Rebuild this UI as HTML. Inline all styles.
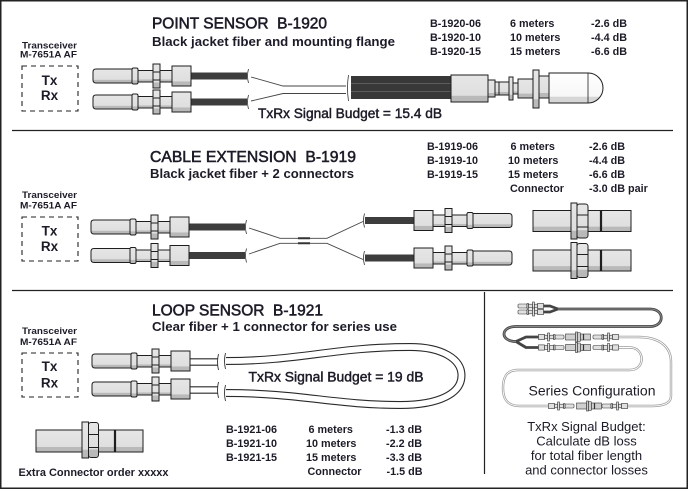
<!DOCTYPE html>
<html><head><meta charset="utf-8">
<style>
html,body{margin:0;padding:0;background:#fff;}
svg{display:block;}
text{font-family:"Liberation Sans",Arial,sans-serif;fill:#1c1c28;}
.b{font-weight:bold;}
.t{stroke:#1c1c28;stroke-width:0.55;}
.t2{stroke:#1c1c28;stroke-width:0.45;}
.pre{white-space:pre;}
</style></head><body>
<svg width="688" height="489" viewBox="0 0 688 489" xmlns="http://www.w3.org/2000/svg">
<defs>
<linearGradient id="g" x1="0" y1="0" x2="0" y2="1">
<stop offset="0" stop-color="#e6e6e6"/><stop offset="0.76" stop-color="#dfdfdf"/><stop offset="0.78" stop-color="#b9b9b9"/><stop offset="1" stop-color="#b9b9b9"/>
</linearGradient>
<linearGradient id="gw" x1="0" y1="0" x2="0" y2="1">
<stop offset="0" stop-color="#ffffff"/><stop offset="0.78" stop-color="#f7f7f7"/><stop offset="0.8" stop-color="#d6d6d6"/><stop offset="1" stop-color="#d6d6d6"/>
</linearGradient>
<g id="lc" stroke="#1e1e1e" stroke-width="1" fill="url(#g)">
 <path d="M96,-7H132V7H96Q93,7 93,4V-4Q93,-7 96,-7Z"/>
 <rect x="138" y="-5.5" width="15" height="11.5"/>
 <rect x="132" y="-8" width="6" height="16" rx="1.5"/>
 <rect x="160" y="-5.5" width="12" height="11.5"/>
 <rect x="153" y="-12" width="7" height="24"/>
 <path d="M153,-4H160M153,4H160" fill="none"/>
 <rect x="172" y="-10" width="19" height="20"/>
</g>
<g id="sl" stroke="#1e1e1e" stroke-width="1" fill="url(#g)">
 <rect x="533" y="-10.5" width="38" height="21"/>
 <rect x="588" y="-10.5" width="13" height="21"/>
 <rect x="601" y="-10.5" width="30" height="21"/>
 <line x1="601" y1="-10.5" x2="601" y2="10.5" stroke-width="2.2"/>
 <rect x="571" y="-18" width="6" height="36"/>
 <rect x="577" y="-17" width="11" height="34" rx="2.5"/>
 <path d="M577,-6H588M577,6H588" fill="none"/>
</g>
<g id="mc" stroke="#333" stroke-width="0.6" fill="#e0e0e0">
 <rect x="0" y="-2" width="9" height="4" rx="1"/>
 <rect x="9" y="-2.5" width="1.5" height="5"/>
 <rect x="10.5" y="-1.8" width="4" height="3.6"/>
 <rect x="14.5" y="-4" width="2" height="8"/>
 <rect x="16.5" y="-1.8" width="3" height="3.6"/>
 <rect x="19.5" y="-2.6" width="6" height="5.2"/>
</g>
<g id="ms" stroke="#333" stroke-width="0.6" fill="#cfcfcf">
 <rect x="0" y="-3" width="10" height="6"/>
 <rect x="15" y="-3" width="10" height="6"/>
 <rect x="10" y="-5" width="2" height="10"/>
 <rect x="12" y="-4.5" width="3" height="9" rx="1"/>
 <line x1="18" y1="-3" x2="18" y2="3" stroke-width="1.2"/>
</g>
</defs>

<!-- frame and dividers -->
<rect x="0.75" y="0.75" width="686.5" height="487.5" fill="none" stroke="#222" stroke-width="1.5"/>
<line x1="12" y1="130.5" x2="673" y2="130.5" stroke="#222" stroke-width="1.3"/>
<line x1="12" y1="290.5" x2="673" y2="290.5" stroke="#222" stroke-width="1.3"/>
<line x1="484.5" y1="292" x2="484.5" y2="474" stroke="#222" stroke-width="1.2"/>

<!-- ================= TOP: POINT SENSOR ================= -->
<text x="152" y="28.5" font-size="15.4" class="t pre" textLength="175" lengthAdjust="spacingAndGlyphs">POINT SENSOR  B-1920</text>
<text x="152" y="46" font-size="13.3" class="b" textLength="243" lengthAdjust="spacingAndGlyphs">Black jacket fiber and mounting flange</text>

<g font-size="10.8" class="b">
<text x="430" y="27">B-1920-06</text><text x="510" y="27">6 meters</text><text x="591" y="27">-2.6 dB</text>
<text x="430" y="41">B-1920-10</text><text x="510" y="41">10 meters</text><text x="591" y="41">-4.4 dB</text>
<text x="430" y="55">B-1920-15</text><text x="510" y="55">15 meters</text><text x="591" y="55">-6.6 dB</text>
</g>

<text x="22" y="48.5" font-size="9.5" class="b" textLength="55" lengthAdjust="spacingAndGlyphs">Transceiver</text>
<text x="20" y="57.5" font-size="9.5" class="b" textLength="57" lengthAdjust="spacingAndGlyphs">M-7651A AF</text>
<rect x="22" y="66" width="56" height="45" fill="none" stroke="#222" stroke-width="1.1" stroke-dasharray="5,4"/>
<text x="49.5" y="85" font-size="13.5" class="b" text-anchor="middle">Tx</text>
<text x="49.5" y="100" font-size="13.5" class="b" text-anchor="middle">Rx</text>

<!-- cables left -->
<rect x="191" y="72.5" width="56" height="7" fill="#3d3d3d"/>
<rect x="191" y="98.5" width="56" height="7" fill="#3d3d3d"/>
<use href="#lc" transform="translate(0,76)"/>
<use href="#lc" transform="translate(0,102)"/>
<path d="M248.5,69 Q246.5,76 248.5,83 M248.5,95 Q246.5,102 248.5,109" fill="none" stroke="#333" stroke-width="0.8"/>
<path d="M251,77 L283,86 L346,86 M251,101 L283,93.5 L346,93.5" fill="none" stroke="#444" stroke-width="0.9"/>

<text x="258" y="118" font-size="13.5" class="t2" textLength="184" lengthAdjust="spacingAndGlyphs">TxRx Signal Budget = 15.4 dB</text>

<!-- sensor assembly -->
<path d="M348.5,75 Q346.5,88 348.5,101" fill="none" stroke="#333" stroke-width="0.8"/>
<rect x="351" y="76" width="101" height="23" fill="#383838"/>
<line x1="351" y1="83.5" x2="452" y2="83.5" stroke="#5c5c5c" stroke-width="1"/>
<line x1="351" y1="91.5" x2="452" y2="91.5" stroke="#5c5c5c" stroke-width="1"/>
<g stroke="#1e1e1e" stroke-width="1" fill="url(#g)">
<rect x="451" y="75" width="37" height="27"/>
<rect x="488" y="80" width="7" height="17"/>
<rect x="495" y="82" width="14" height="13"/>
<line x1="499" y1="82" x2="499" y2="95"/>
<rect x="509" y="77" width="4" height="23"/>
<rect x="513" y="83" width="5" height="11"/>
<rect x="518" y="79" width="15" height="19"/>
<rect x="533" y="70" width="6" height="38"/>
<rect x="539" y="76" width="10" height="22"/>
<path d="M549,73 H588 A15,15 0 0 1 588,103 H549 Z" fill="url(#gw)"/>
<line x1="588" y1="73" x2="588" y2="103" stroke-width="0.8"/>
</g>

<!-- ================= MIDDLE: CABLE EXTENSION ================= -->
<text x="150" y="162" font-size="15.6" class="t pre" textLength="206" lengthAdjust="spacingAndGlyphs">CABLE EXTENSION  B-1919</text>
<text x="150" y="178" font-size="13.3" class="b" textLength="204" lengthAdjust="spacingAndGlyphs">Black jacket fiber + 2 connectors</text>

<g font-size="10.8" class="b">
<text x="427" y="150">B-1919-06</text><text x="510.5" y="150">6 meters</text><text x="589" y="150">-2.6 dB</text>
<text x="427" y="164">B-1919-10</text><text x="508" y="164">10 meters</text><text x="589" y="164">-4.4 dB</text>
<text x="427" y="178">B-1919-15</text><text x="508" y="178">15 meters</text><text x="589" y="178">-6.6 dB</text>
<text x="510" y="192">Connector</text><text x="589" y="192">-3.0 dB pair</text>
</g>

<text x="22" y="198" font-size="9.5" class="b" textLength="55" lengthAdjust="spacingAndGlyphs">Transceiver</text>
<text x="20" y="208.5" font-size="9.5" class="b" textLength="57" lengthAdjust="spacingAndGlyphs">M-7651A AF</text>
<rect x="22" y="217" width="56" height="44" fill="none" stroke="#222" stroke-width="1.1" stroke-dasharray="5,4"/>
<text x="49.5" y="235.5" font-size="13.5" class="b" text-anchor="middle">Tx</text>
<text x="49.5" y="251" font-size="13.5" class="b" text-anchor="middle">Rx</text>

<rect x="189" y="223.5" width="56" height="7" fill="#3d3d3d"/>
<rect x="189" y="252" width="56" height="7" fill="#3d3d3d"/>
<use href="#lc" transform="translate(-2,227)"/>
<use href="#lc" transform="translate(-2,255.5)"/>
<path d="M246.5,220 Q244.5,227 246.5,234 M246.5,248.5 Q244.5,255.5 246.5,262.5" fill="none" stroke="#333" stroke-width="0.8"/>
<path d="M249,228 L280,238.3 L327,238.3 L363,221.5 M249,254 L280,243.3 L327,243.3 L363,259.5" fill="none" stroke="#444" stroke-width="0.9"/>
<path d="M298,238.3 H310 M298,243.3 H310" stroke="#333" stroke-width="2"/>

<path d="M364.5,213.5 Q362.5,220.5 364.5,227.5 M364.5,251 Q362.5,258 364.5,265" fill="none" stroke="#333" stroke-width="0.8"/>
<rect x="365" y="217" width="49" height="7" fill="#3d3d3d"/>
<rect x="365" y="254.5" width="49" height="7" fill="#3d3d3d"/>
<use href="#lc" transform="translate(605,220.5) scale(-1,1)"/>
<use href="#lc" transform="translate(605,258) scale(-1,1)"/>

<use href="#sl" transform="translate(0,221)"/>
<use href="#sl" transform="translate(0,260.5)"/>

<!-- ================= BOTTOM: LOOP SENSOR ================= -->
<text x="152" y="315.5" font-size="15.5" class="t pre" textLength="171" lengthAdjust="spacingAndGlyphs">LOOP SENSOR  B-1921</text>
<text x="152" y="331" font-size="13.3" class="b" textLength="245" lengthAdjust="spacingAndGlyphs">Clear fiber + 1 connector for series use</text>

<text x="22" y="334" font-size="9.5" class="b" textLength="55" lengthAdjust="spacingAndGlyphs">Transceiver</text>
<text x="20" y="345" font-size="9.5" class="b" textLength="57" lengthAdjust="spacingAndGlyphs">M-7651A AF</text>
<rect x="22" y="353" width="56" height="44" fill="none" stroke="#222" stroke-width="1.1" stroke-dasharray="5,4"/>
<text x="49.5" y="371" font-size="13.5" class="b" text-anchor="middle">Tx</text>
<text x="49.5" y="387.5" font-size="13.5" class="b" text-anchor="middle">Rx</text>

<!-- clear fiber loop -->
<g fill="none" stroke-linecap="butt">
<path d="M189,362 H218 M189,390 H218" stroke="#2a2a2a" stroke-width="7.5"/>
<path d="M189,362 H218 M189,390 H218" stroke="#fff" stroke-width="5.3"/>
<path d="M226,361 C300,361 335,347 410,347 C442,347 461.5,359 461.5,375.5 C461.5,393 440,405 400,405 C335,405 300,393 226,393" stroke="#2a2a2a" stroke-width="8"/>
<path d="M226,361 C300,361 335,347 410,347 C442,347 461.5,359 461.5,375.5 C461.5,393 440,405 400,405 C335,405 300,393 226,393" stroke="#fff" stroke-width="5.8"/>
<path d="M218.5,354 Q216.5,362 218.5,370 M225.5,353 Q223.5,361 225.5,369 M218.5,382 Q216.5,390 218.5,398 M225.5,385 Q223.5,393 225.5,401" stroke="#333" stroke-width="0.9"/>
</g>
<use href="#lc" transform="translate(-1,361)"/>
<use href="#lc" transform="translate(-1,389)"/>

<text x="248.5" y="381.5" font-size="13.5" class="t2" textLength="175" lengthAdjust="spacingAndGlyphs">TxRx Signal Budget = 19 dB</text>

<g font-size="10.8" class="b">
<text x="226" y="433">B-1921-06</text><text x="308.5" y="433">6 meters</text><text x="386" y="433">-1.3 dB</text>
<text x="226" y="447">B-1921-10</text><text x="306" y="447">10 meters</text><text x="386" y="447">-2.2 dB</text>
<text x="226" y="461">B-1921-15</text><text x="306" y="461">15 meters</text><text x="386" y="461">-3.3 dB</text>
<text x="307.5" y="475">Connector</text><text x="386.5" y="475">-1.5 dB</text>
</g>

<!-- extra connector -->
<g stroke="#1e1e1e" stroke-width="1" fill="url(#g)">
<rect x="36" y="430" width="46" height="22"/>
<rect x="98" y="430" width="17" height="22"/>
<rect x="115" y="430" width="28" height="22"/>
<line x1="115" y1="430" x2="115" y2="452" stroke-width="2.2"/>
<rect x="82" y="422" width="6.5" height="36"/>
<rect x="88.5" y="422.5" width="10" height="35" rx="2.5"/>
<path d="M88.5,434.5H98.5M88.5,447.5H98.5" fill="none"/>
</g>
<text x="18.5" y="476" font-size="11" class="b" textLength="150" lengthAdjust="spacingAndGlyphs">Extra Connector order xxxxx</text>

<!-- ================= SERIES CONFIGURATION ================= -->
<g fill="none">
<path d="M618.5,337 L638,337 C660,337 671,347 671,362 L671,396 C671,403 664,406 652,406 L627.5,406" stroke="#9c9c9c" stroke-width="2.4"/>
<path d="M618.5,347.5 L630,347.5 C645,347.5 646,370 630,370 L518,370 C506,370 503,378 503,388 C503,400 508,406 520,406 L548.5,406" stroke="#9c9c9c" stroke-width="2.4"/>
<path d="M618.5,337 L638,337 C660,337 671,347 671,362 L671,396 C671,403 664,406 652,406 L627.5,406" stroke="#fff" stroke-width="0.9"/>
<path d="M618.5,347.5 L630,347.5 C645,347.5 646,370 630,370 L518,370 C506,370 503,378 503,388 C503,400 508,406 520,406 L548.5,406" stroke="#fff" stroke-width="0.9"/>
<path d="M543,306 L550,306 L558,309 M543,312 L550,312 L558,309 M558,309 L650,309 C665,309 665,326.5 650,326.5 L516,326.5 C500,326.5 500,341.5 516,341.5 L526,337 L538.5,337 M516,341.5 L526,347.5 L538.5,347.5" stroke="#444" stroke-width="2.8" stroke-linejoin="round"/>
<path d="M558,309 L650,309 C665,309 665,326.5 650,326.5 L516,326.5 C500,326.5 500,341.5 516,341.5" stroke="#8a8a8a" stroke-width="1"/>
</g>
<use href="#mc" transform="translate(518,306)"/>
<use href="#mc" transform="translate(518,312)"/>
<use href="#mc" transform="translate(564,337) scale(-1,1)"/>
<use href="#ms" transform="translate(565.5,337)"/>
<use href="#mc" transform="translate(593,337)"/>
<use href="#mc" transform="translate(564,347.5) scale(-1,1)"/>
<use href="#ms" transform="translate(565.5,347.5)"/>
<use href="#mc" transform="translate(593,347.5)"/>
<use href="#mc" transform="translate(574,406) scale(-1,1)"/>
<use href="#ms" transform="translate(576.5,406)"/>
<use href="#mc" transform="translate(602,406)"/>

<text x="528.5" y="395.5" font-size="14.2" textLength="127" lengthAdjust="spacingAndGlyphs">Series Configuration</text>
<g font-size="13" text-anchor="middle">
<text x="586.5" y="431">TxRx Signal Budget:</text>
<text x="586.5" y="445.5">Calculate dB loss</text>
<text x="586.5" y="460">for total fiber length</text>
<text x="586.5" y="474.5">and connector losses</text>
</g>
</svg>
</body></html>
